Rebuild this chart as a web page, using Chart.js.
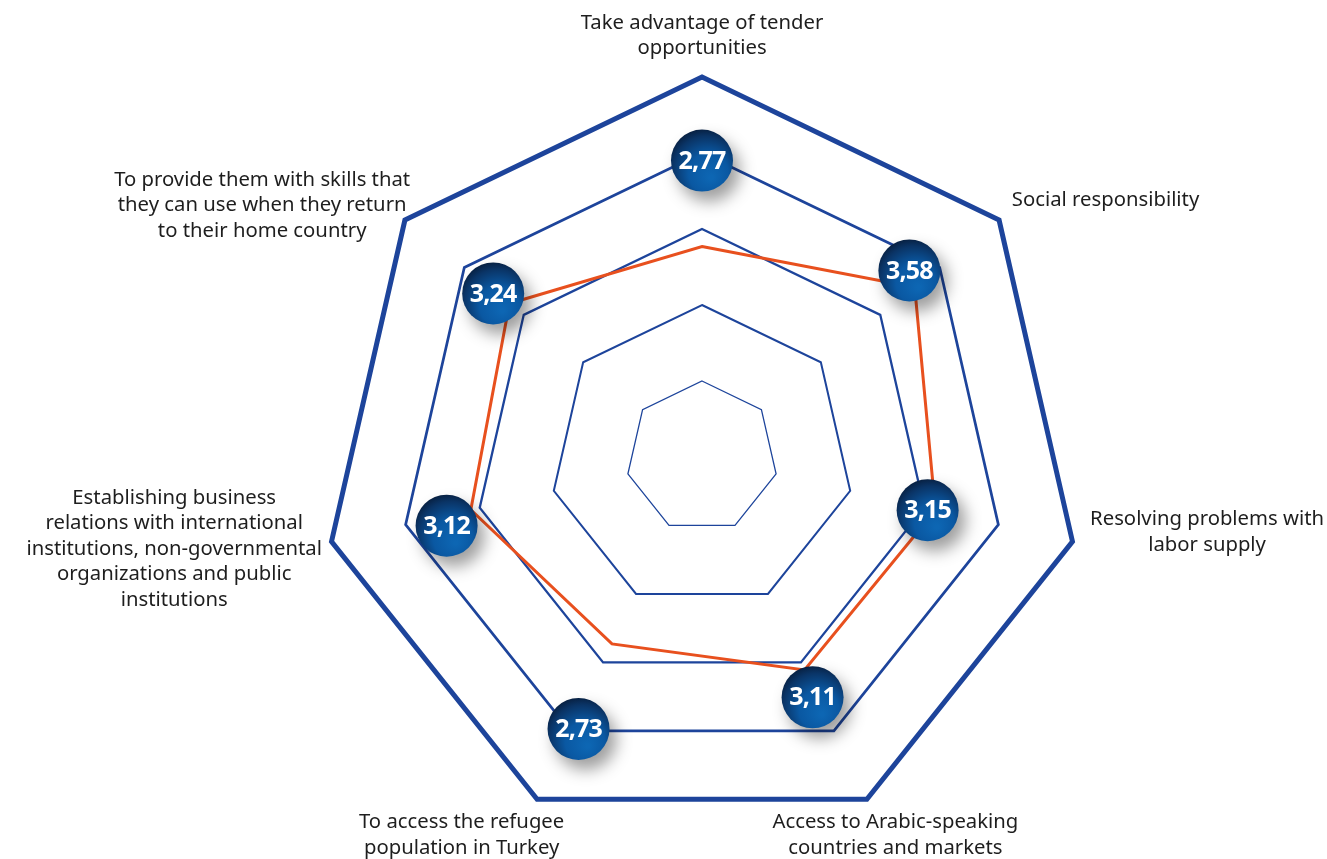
<!DOCTYPE html>
<html>
<head>
<meta charset="utf-8">
<script src="https://cdn.jsdelivr.net/npm/chart.js@4.4.1/dist/chart.umd.min.js"></script>
<style>
  html, body { margin: 0; padding: 0; background: #ffffff; }
  #wrap { width: 1327px; height: 859px; position: relative; }
</style>
</head>
<body>
<div id="wrap"><canvas id="c" width="1327" height="859"></canvas></div>
<script>
// ---- data ----
const categories = [
  ['Take advantage of tender', 'opportunities'],
  ['Social responsibility'],
  ['Resolving problems with', 'labor supply'],
  ['Access to Arabic-speaking', 'countries and markets'],
  ['To access the refugee', 'population in Turkey'],
  ['Establishing business', 'relations with international', 'institutions, non-governmental', 'organizations and public', 'institutions'],
  ['To provide them with skills that', 'they can use when they return', 'to their home country']
];
const scores = [2.77, 3.58, 3.15, 3.11, 2.73, 3.12, 3.24];
const scaleMin = 0;
const scaleMax = 5;
const scaleStep = 1;

// ---- presentation (placement of the value badges and axis labels) ----
const badgeAlong = [3.90, 3.67, 3.05, 3.48, 3.93, 3.48, 3.49];   // distance along axis, in scale units
const badgeTurn  = [0, -3.4, 0.4, 1.0, -1.3, -2.2, -0.5];         // degrees of rotation from axis
const labelAlign = ['center', 'left', 'left', 'center', 'center', 'right', 'right'];
const labelShift = [[0, -26.5], [1, -10], [3, -12.5], [22, 22.5], [-69, 22.5], [5, 4], [17, -5]];
const ringWidths = [1.3, 2, 2.3, 2.7, 5];

const RING_COLOR = '#1d449b';
const LINE_COLOR = '#e8501e';
const TEXT_COLOR = '#1e1e1e';
const LABEL_FONT = '20.3px "Noto Sans", sans-serif';
const LINE_H = 25.5;

const overlay = {
  id: 'overlay',
  afterDatasetsDraw(chart) {
    const ctx = chart.ctx;
    const s = chart.scales.r;
    // axis labels
    ctx.save();
    ctx.font = LABEL_FONT;
    ctx.fillStyle = TEXT_COLOR;
    ctx.textBaseline = 'middle';
    ctx.textAlign = 'center';
    categories.forEach((lines, i) => {
      const p = s.getPointPosition(i, s.drawingArea + 15);
      const w = Math.max(...lines.map(l => ctx.measureText(l).width));
      const [dx, dy] = labelShift[i];
      let cx;
      if (labelAlign[i] === 'left') cx = p.x + dx + w / 2;
      else if (labelAlign[i] === 'right') cx = p.x + dx - w / 2;
      else cx = p.x + dx;
      const cy = p.y + dy;
      const top = cy - (lines.length - 1) * LINE_H / 2;
      lines.forEach((l, k) => ctx.fillText(l, cx, top + k * LINE_H));
    });
    ctx.restore();

    // value badges
    const R = 31;
    scores.forEach((v, i) => {
      const dist = s.getDistanceFromCenterForValue(badgeAlong[i]);
      const ang = s.getIndexAngle(i) - Math.PI / 2 + badgeTurn[i] * Math.PI / 180;
      const x = s.xCenter + Math.cos(ang) * dist;
      const y = s.yCenter + Math.sin(ang) * dist;
      ctx.save();
      const g = ctx.createRadialGradient(x + R * 0.3, y + R * 0.55, 2, x + R * 0.1, y + R * 0.25, R * 1.35);
      g.addColorStop(0, '#0d66b3');
      g.addColorStop(0.45, '#0a58a2');
      g.addColorStop(0.8, '#0a3466');
      g.addColorStop(1, '#071a36');
      ctx.shadowColor = 'rgba(0,0,0,0.38)';
      ctx.shadowBlur = 16;
      ctx.shadowOffsetX = 7;
      ctx.shadowOffsetY = 10;
      ctx.beginPath();
      ctx.arc(x, y, R, 0, Math.PI * 2);
      ctx.fillStyle = g;
      ctx.fill();
      ctx.restore();
      ctx.save();
      ctx.font = 'bold 25px "Noto Sans", sans-serif';
      ctx.fillStyle = '#ffffff';
      ctx.textAlign = 'center';
      ctx.textBaseline = 'middle';
      if ('letterSpacing' in ctx) ctx.letterSpacing = '-0.8px';
      ctx.fillText(v.toFixed(2).replace('.', ','), x, y + 1);
      ctx.restore();
    });
  }
};

new Chart(document.getElementById('c'), {
  type: 'radar',
  data: {
    labels: categories,
    datasets: [{
      data: scores,
      borderColor: LINE_COLOR,
      borderWidth: 3,
      backgroundColor: 'rgba(0,0,0,0)',
      fill: false,
      pointRadius: 0,
      pointHoverRadius: 0,
      tension: 0
    }]
  },
  options: {
    responsive: false,
    animation: false,
    events: [],
    layout: { padding: { left: 77, right: 0, top: 77, bottom: 22 } },
    plugins: { legend: { display: false }, tooltip: { enabled: false } },
    scales: {
      r: {
        min: scaleMin,
        max: scaleMax,
        ticks: { display: false, stepSize: scaleStep },
        angleLines: { display: false },
        pointLabels: { display: false },
        grid: {
          color: RING_COLOR,
          lineWidth: (c) => ringWidths[Math.max(0, c.index - 1)] || 2
        }
      }
    }
  },
  plugins: [overlay]
});
</script>
</body>
</html>
